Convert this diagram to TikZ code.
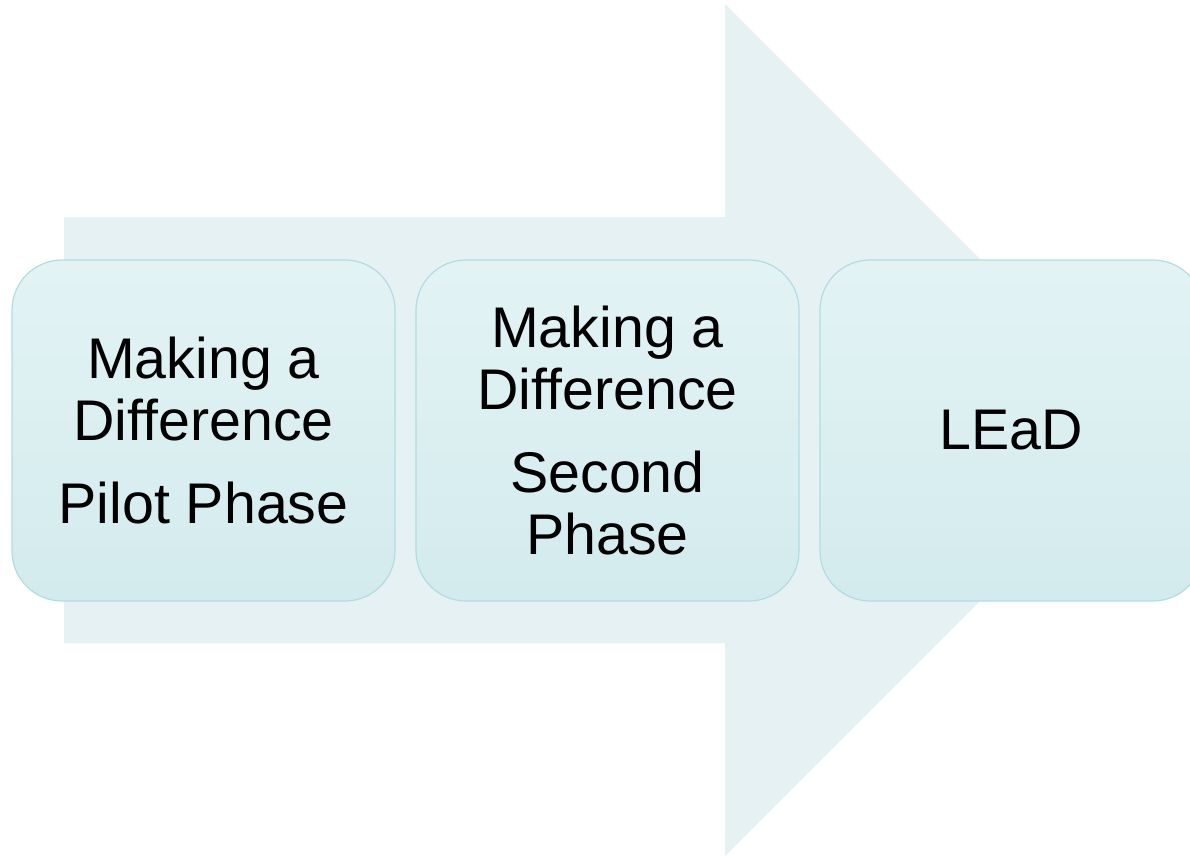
\documentclass[tikz,border=0pt]{standalone}
\usepackage{fontspec}
\setmainfont{Liberation Sans}
\usepackage{tikz}
\usetikzlibrary{positioning}
\definecolor{arrowfill}{HTML}{E6F1F3}
\definecolor{boxtop}{HTML}{E3F3F4}
\definecolor{boxbottom}{HTML}{D3EBEE}
\definecolor{boxline}{HTML}{B3DCE2}
\tikzstyle{phase} = [rectangle, rounded corners=37.5pt, minimum width=287.25pt, minimum height=255.75pt, text centered, align=center, draw=boxline, line width=0.9pt, top color=boxtop, bottom color=boxbottom, font=\fontsize{43pt}{46.5pt}\selectfont]

\begin{document}
\begin{tikzpicture}[x=0.75pt, y=-0.75pt, node distance=14.85pt]
\useasboundingbox (0,0) rectangle (1190,856);
\clip (0,0) rectangle (1190,856);
\fill[arrowfill] (64,217) -- (725,217) -- (725,4) -- (1151,430) -- (725,856) -- (725,643) -- (64,643) -- cycle;
\node (pilot) [phase] at (203.5,430.5) {Making a\\Difference\\[15.75pt]Pilot Phase};
\node (second) [phase, right=of pilot] {Making a\\Difference\\[15.75pt]Second\\Phase};
\node (lead) [phase, right=of second] {LEaD};
\end{tikzpicture}
\end{document}
